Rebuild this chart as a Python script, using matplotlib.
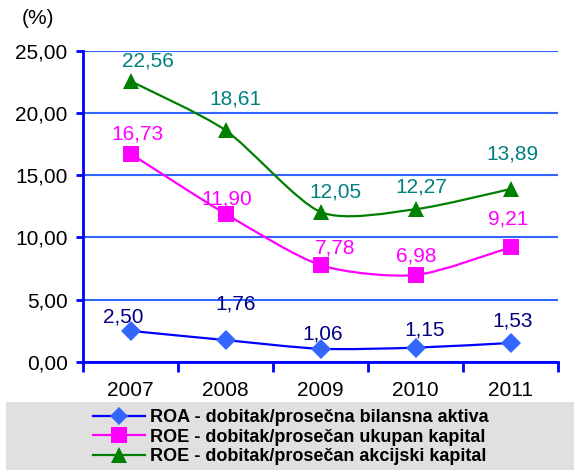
import numpy as np
import matplotlib
matplotlib.use("Agg")
import matplotlib.pyplot as plt
from matplotlib.path import Path
from matplotlib.patches import PathPatch, Rectangle
from matplotlib.lines import Line2D

plt.rcParams['font.family'] = ['Liberation Sans', 'DejaVu Sans']

# data
years = ['2007', '2008', '2009', '2010', '2011']
roa = [2.50, 1.76, 1.06, 1.15, 1.53]
roe_total = [16.73, 11.90, 7.78, 6.98, 9.21]
roe_share = [22.56, 18.61, 12.05, 12.27, 13.89]
names = ['ROA - dobitak/prosečna bilansna aktiva',
         'ROE - dobitak/prosečan ukupan kapital',
         'ROE - dobitak/prosečan akcijski kapital']
y_ticks = [0, 5, 10, 15, 20, 25]

# per-label offsets in pixels (hand placed labels in the original)
off_roa = [(-7, 14), (10, 36), (2, 15), (9, 18), (2, 22)]
off_total = [(7, 20), (1, 15), (15, 17), (1, 19), (-2, 28)]
off_share = [(17, 20), (10, 31), (15, 20), (6, 22), (2, 35)]


def smooth_path(x, y, k=8):
    # excel-like smoothed line as cubic bezier segments
    pts = np.column_stack([x, y]).astype(float)
    ext = np.vstack([pts[0], pts, pts[-1]])
    verts = [pts[0]]
    codes = [Path.MOVETO]
    for i in range(len(pts) - 1):
        p0, p1, p2, p3 = ext[i], ext[i + 1], ext[i + 2], ext[i + 3]
        c1 = p1 + (p2 - p0) / k
        c2 = p2 - (p3 - p1) / k
        verts += [c1, c2, p2]
        codes += [Path.CURVE4] * 3
    return Path(verts, codes)


fig = plt.figure(figsize=(5.74, 4.70), dpi=100)
fig.patches.append(Rectangle((6 / 574, 0), 1, 1 - 402 / 470, transform=fig.transFigure,
                             facecolor='#E0E0E0', edgecolor='none', zorder=0))
ax = fig.add_axes([83 / 574, 1 - 362 / 470, (558 - 83) / 574, (362 - 50.7) / 470])
ax.patch.set_alpha(0)

x = np.arange(len(years))
series = [
    (roa, 'D', '#0000FF', '#3366FF', '#000080', off_roa, 10),
    (roe_total, 's', '#FF00FF', '#FF00FF', '#FF00FF', off_total, 12),
    (roe_share, '^', '#008000', '#008000', '#008080', off_share, 12),
]
handles = []
for vals, mk, lc, mc, tc, offs, ms in series:
    ax.add_patch(PathPatch(smooth_path(x, vals), facecolor='none', edgecolor=lc,
                           lw=1.6, zorder=3))
    ax.plot(x, vals, linestyle='none', marker=mk, color=mc, markersize=ms,
            markeredgewidth=0, zorder=4)
    for xi, v, (dx, dy) in zip(x, vals, offs):
        ax.annotate(f'{v:.2f}'.replace('.', ','), (xi, v), xytext=(dx, dy),
                    textcoords='offset pixels', ha='center', va='center',
                    fontsize=15, color=tc, zorder=5)
    handles.append(Line2D([], [], color=lc, lw=1.6, marker=mk, markersize=ms - 1,
                          markerfacecolor=mc, markeredgewidth=0))

ax.set_xlim(-0.5, len(years) - 0.5)
ax.set_ylim(0, 25)
ax.set_yticks(y_ticks)
ax.set_yticklabels([f'{t:.2f}'.replace('.', ',') for t in y_ticks], fontsize=15)
ax.set_xticks(x)
ax.set_xticklabels(years, fontsize=15)
ax.set_xticks(np.arange(-0.5, len(years)), minor=True)
ax.tick_params(axis='x', which='major', length=0, pad=14)
ax.tick_params(axis='x', which='minor', length=7, width=2, color='#0000FF', direction='out')
ax.tick_params(axis='y', length=5, width=2, color='#0000FF', direction='out', pad=6)
ax.grid(axis='y', color='#3366FF', lw=1.5, zorder=1)
for s in ['top', 'right']:
    ax.spines[s].set_visible(False)
for s in ['left', 'bottom']:
    ax.spines[s].set_color('#0000FF')
    ax.spines[s].set_linewidth(2)
    ax.spines[s].set_zorder(2)

fig.text(22 / 574, 1 - 18 / 470, '(%)', fontsize=15, ha='left', va='center')

fig.legend(handles, names, loc='upper left', bbox_to_anchor=(93 / 574, 1 - 409 / 470),
           frameon=False, prop={'weight': 'bold', 'size': 13},
           handlelength=2.9, handletextpad=0.25, labelspacing=0.15,
           borderpad=0, borderaxespad=0)

fig.savefig('out.png', dpi=100)
